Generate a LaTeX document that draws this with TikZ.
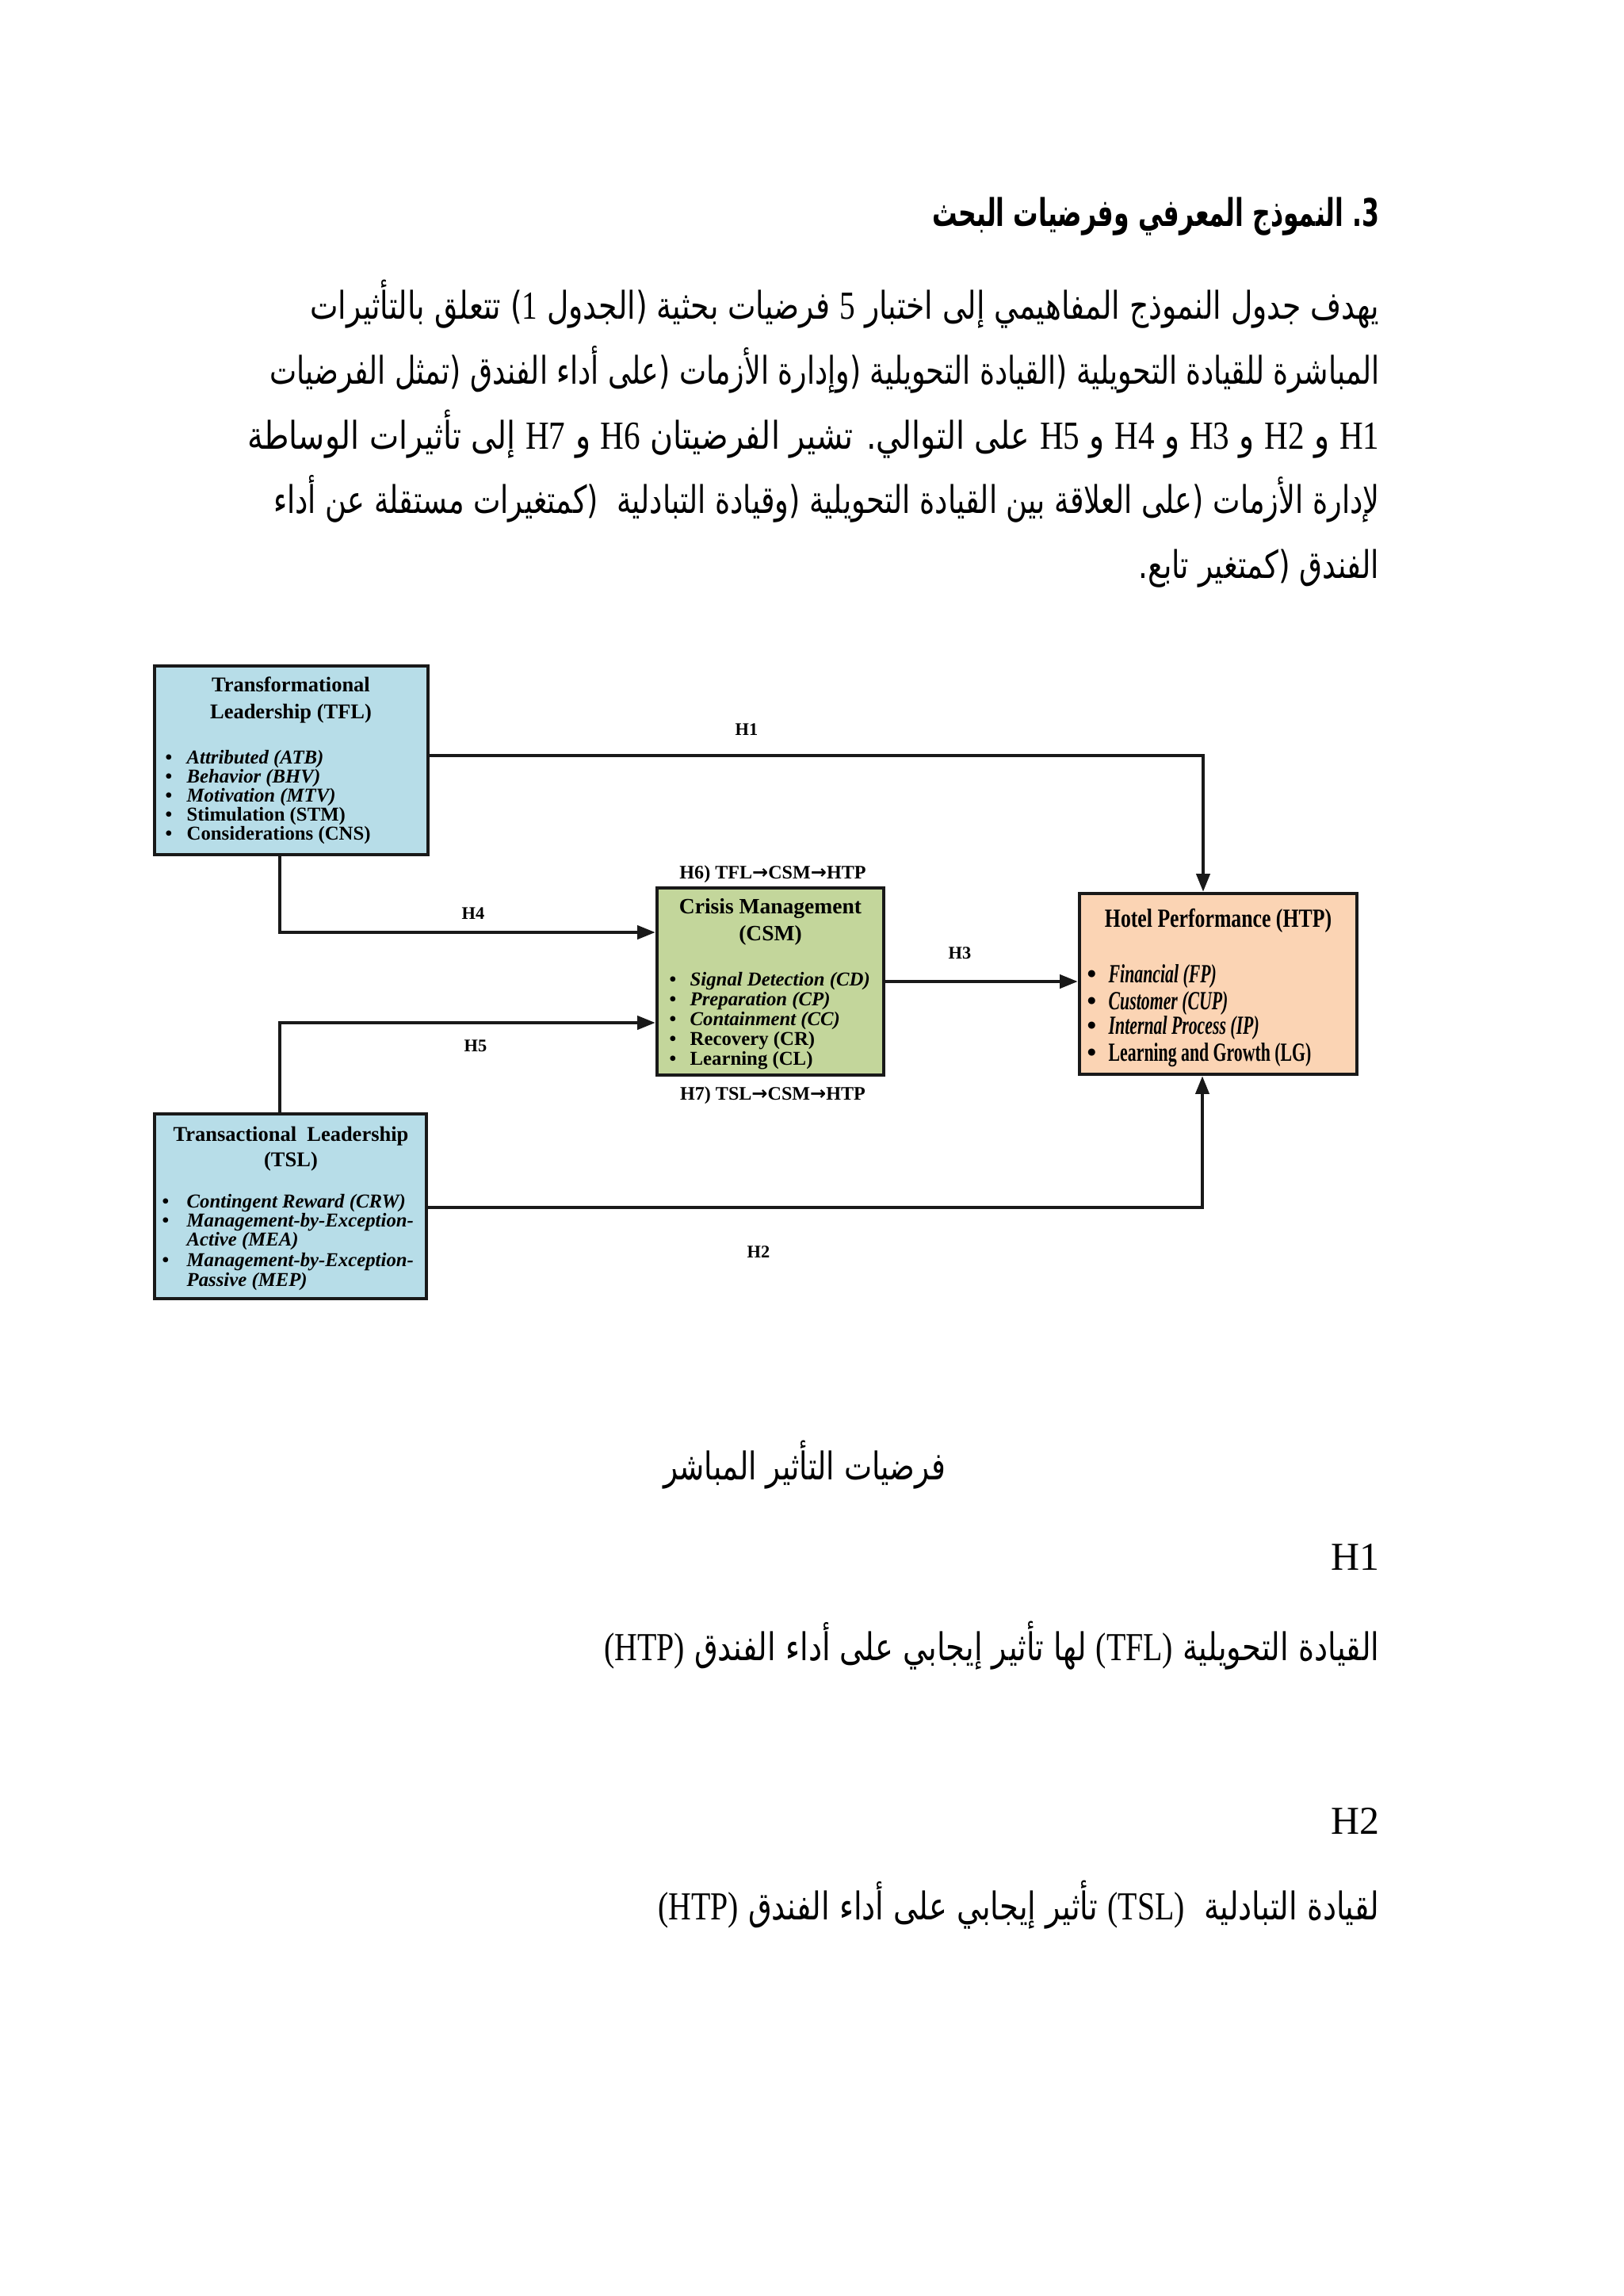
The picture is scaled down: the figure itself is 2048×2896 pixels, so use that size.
\documentclass[tikz,border=0pt]{standalone}
\usepackage{fontspec}
\usepackage{graphicx}
\usetikzlibrary{arrows.meta}
\setmainfont{Liberation Serif}
\newfontfamily\arabicfont[Script=Arabic]{DejaVu Sans}
\newfontfamily\latinfont[Scale=1.04]{Liberation Serif}
\newfontfamily\arrowfont{DejaVu Sans}
\TeXXeTstate=1
\newdimen\px \px=0.29067pt
\newcommand\lat[1]{{\latinfont #1}}
\newcommand\bul[2]{\makebox[#1][l]{\upshape\textbullet}#2}
\definecolor{tflblue}{HTML}{B7DDE8}
\definecolor{csmgreen}{HTML}{C3D69B}
\definecolor{htppeach}{HTML}{FBD4B4}
\tikzset{
  box/.style={draw=black!90, line width=1.4pt, inner sep=0pt},
  conn/.style={draw=black!90, line width=0.9pt},
  arr/.style={conn, -{Triangle[length=6.5pt,width=5pt]}},
  lbl/.style={font=\fontsize{6.5}{7}\selectfont\bfseries, inner sep=0pt},
  medlbl/.style={font=\fontsize{7}{8}\selectfont\bfseries, inner sep=0pt},
  ttl/.style={font=\fontsize{7.7}{8}\selectfont\bfseries, inner sep=0pt, anchor=base},
  ttlc/.style={font=\fontsize{8}{9}\selectfont\bfseries, inner sep=0pt, anchor=base},
  ttlh/.style={font=\fontsize{9.6}{10}\selectfont\bfseries, inner sep=0pt, anchor=base},
  itm/.style={font=\fontsize{7.2}{7}\selectfont\bfseries, inner sep=0pt, anchor=base west},
  itmh/.style={font=\fontsize{9.6}{10}\selectfont\bfseries, inner sep=0pt, anchor=base west},
  ar/.style={inner sep=0pt, anchor=base east, font=\arabicfont\fontsize{14}{16}\selectfont},
  arc/.style={inner sep=0pt, anchor=base, font=\arabicfont\fontsize{14}{16}\selectfont},
  lt/.style={inner sep=0pt, anchor=base east, font=\fontsize{14.5}{16}\selectfont},
}
\begin{document}
\begin{tikzpicture}[x=0.29067pt,y=-0.29067pt]
\fill[white] (0,0) rectangle (2048,2896);
\useasboundingbox (0,0) rectangle (2048,2896);

% ---------- Arabic text above ----------
\node[ar] (head) at (1741,285) {\bfseries\resizebox{564\px}{\height}{\beginR\hbox{3}\hbox{.} النموذج المعرفي وفرضيات البحث\endR}};
\node[ar] (p1) at (1741,402) {\resizebox{1349\px}{\height}{\beginR يهدف جدول النموذج المفاهيمي إلى اختبار \lat{5} فرضيات بحثية (الجدول \lat{1}) تتعلق بالتأثيرات\endR}};
\node[ar] (p2) at (1741,484) {\resizebox{1400\px}{\height}{\beginR المباشرة للقيادة التحويلية (القيادة التحويلية (وإدارة الأزمات (على أداء الفندق (تمثل الفرضيات\endR}};
\node[ar] (p3) at (1741,566) {\resizebox{1428\px}{\height}{\beginR\lat{H1} و \lat{H2} و \lat{H3} و \lat{H4} و \lat{H5} على التوالي. تشير الفرضيتان \lat{H6} و \lat{H7} إلى تأثيرات الوساطة\endR}};
\node[ar] (p4) at (1741,647) {\resizebox{1395\px}{\height}{\beginR لإدارة الأزمات (على العلاقة بين القيادة التحويلية (وقيادة التبادلية \ (كمتغيرات مستقلة عن أداء\endR}};
\node[ar] (p5) at (1741,729) {\resizebox{304\px}{\height}{\beginR الفندق (كمتغير تابع.\endR}};

% ---------- boxes ----------
\node[box, fill=tflblue, minimum width=345*\px, minimum height=238*\px] (tfl) at (367.5,959) {};
\node[box, fill=csmgreen, minimum width=286*\px, minimum height=236*\px] (csm) at (972,1238) {};
\node[box, fill=htppeach, minimum width=350*\px, minimum height=228*\px] (htp) at (1537,1241) {};
\node[box, fill=tflblue, minimum width=343*\px, minimum height=233*\px] (tsl) at (366.5,1521.5) {};

% TFL text
\node[ttl] (tflt1) at (367,872) {Transformational};
\node[ttl] (tflt2) at (367,906) {Leadership (TFL)};
\node[itm] (tfla) at (208,963) {\bul{27\px}{\itshape Attributed (ATB)}};
\node[itm] (tflb) at (208,987) {\bul{27\px}{\itshape Behavior (BHV)}};
\node[itm] (tflc) at (208,1011) {\bul{27\px}{\itshape Motivation (MTV)}};
\node[itm] (tfld) at (208,1035) {\bul{27\px}{Stimulation (STM)}};
\node[itm] (tfle) at (208,1059) {\bul{27\px}{Considerations (CNS)}};

% CSM text
\node[ttlc] (csmt1) at (972,1152) {Crisis Management};
\node[ttlc] (csmt2) at (972,1186) {(CSM)};
\node[itm] (csma) at (844,1243) {\bul{26\px}{\itshape Signal Detection (CD)}};
\node[itm] (csmb) at (844,1268) {\bul{26\px}{\itshape Preparation (CP)}};
\node[itm] (csmc) at (844,1293) {\bul{26\px}{\itshape Containment (CC)}};
\node[itm] (csmd) at (844,1318) {\bul{26\px}{Recovery (CR)}};
\node[itm] (csme) at (844,1343) {\bul{26\px}{Learning (CL)}};

% HTP text
\node[ttlh] (htpt) at (1537,1169) {\scalebox{0.78}[1]{Hotel Performance (HTP)}};
\node[itmh] (htpa) at (1371,1239) {\bul{27\px}{\scalebox{0.66}[1]{\itshape Financial (FP)}}};
\node[itmh] (htpb) at (1371,1273) {\bul{27\px}{\scalebox{0.66}[1]{\itshape Customer (CUP)}}};
\node[itmh] (htpc) at (1371,1304) {\bul{27\px}{\scalebox{0.66}[1]{\itshape Internal Process (IP)}}};
\node[itmh] (htpd) at (1371,1338) {\bul{27\px}{\scalebox{0.66}[1]{Learning and Growth (LG)}}};

% TSL text
\node[ttl] (tslt1) at (367,1439) {Transactional\ \ Leadership};
\node[ttl] (tslt2) at (367,1471) {(TSL)};
\node[itm] (tsla) at (204,1523) {\bul{31\px}{\itshape Contingent Reward (CRW)}};
\node[itm] (tslb) at (204,1547) {\bul{31\px}{\itshape Management-by-Exception-}};
\node[itm] (tslb2) at (235,1571) {\itshape Active (MEA)};
\node[itm] (tslc) at (204,1597) {\bul{31\px}{\itshape Management-by-Exception-}};
\node[itm] (tslc2) at (235,1622) {\itshape Passive (MEP)};

% ---------- connectors ----------
\coordinate (h1c) at (1518,953);
\coordinate (h4c) at (353,1176);
\coordinate (h5c) at (353,1290);
\coordinate (h2c) at (1517,1523);
\draw[arr] (tfl.east |- h1c) -| (htp.north -| h1c);
\draw[arr] (tfl.south -| h4c) |- (csm.west |- h4c);
\draw[arr] (tsl.north -| h5c) |- (csm.west |- h5c);
\draw[arr] (csm.east) -- (htp.west |- csm.east);
\draw[arr] (tsl.east |- h2c) -| (htp.south -| h2c);

% labels
\node[lbl] (lh1) at (942,920) {H1};
\node[lbl] (lh4) at (597,1152) {H4};
\node[lbl] (lh5) at (600,1319) {H5};
\node[lbl] (lh3) at (1211,1202) {H3};
\node[lbl] (lh2) at (957,1579) {H2};
\node[medlbl] (lh6) at (975,1103) {H6) TFL{\arrowfont\bfseries →}CSM{\arrowfont\bfseries →}HTP};
\node[medlbl] (lh7) at (975,1382) {H7) TSL{\arrowfont\bfseries →}CSM{\arrowfont\bfseries →}HTP};

% ---------- Arabic text below ----------
\node[arc] (sub) at (1015,1866) {\resizebox{356\px}{\height}{\beginR فرضيات التأثير المباشر\endR}};
\node[lt] (hh1) at (1741,1980) {H1};
\node[ar] (hl1) at (1741,2094) {\resizebox{978\px}{\height}{\beginR القيادة التحويلية \lat{(TFL)} لها تأثير إيجابي على أداء الفندق \lat{(HTP)}\endR}};
\node[lt] (hh2) at (1741,2313) {H2};
\node[ar] (hl2) at (1741,2421) {\resizebox{910\px}{\height}{\beginR لقيادة التبادلية \ \lat{(TSL)} تأثير إيجابي على أداء الفندق \lat{(HTP)}\endR}};
\end{tikzpicture}
\end{document}
